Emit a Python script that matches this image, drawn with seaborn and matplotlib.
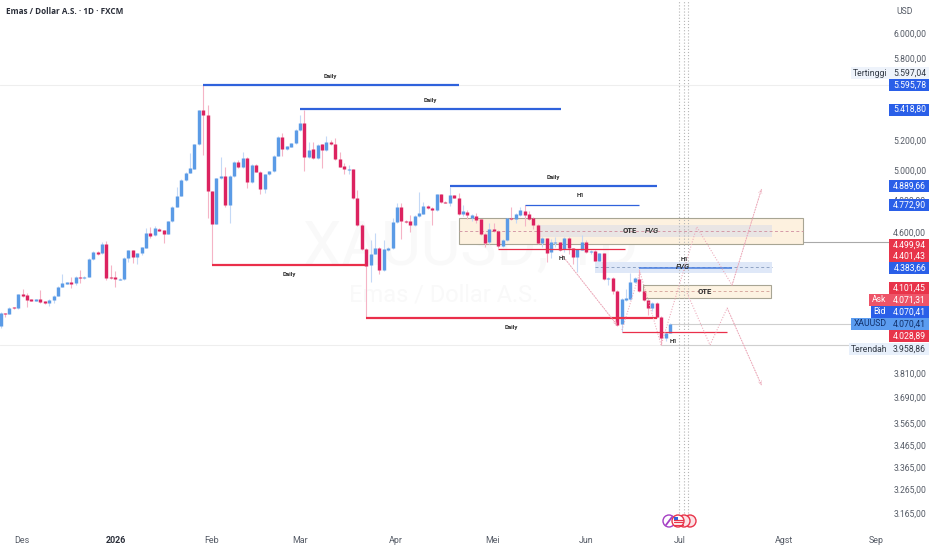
import pandas as pd
import matplotlib.pyplot as plt
import seaborn as sns
from matplotlib.patches import Rectangle, Circle
from matplotlib.lines import Line2D
from matplotlib.transforms import Affine2D

opens = [4060, 4132, 4125, 4163, 4156, 4237, 4229, 4206, 4199, 4206,
         4197, 4186, 4203, 4226, 4278, 4295, 4303, 4297, 4335, 4328,
         4335, 4439, 4480, 4472, 4529, 4335, 4335, 4318, 4322, 4445,
         4492, 4452, 4472, 4506, 4594, 4583, 4622, 4612, 4591, 4668,
         4760, 4828, 4932, 4980, 5007, 5174, 5413, 5376, 4859, 4653,
         4943, 4958, 4771, 4958, 5054, 5018, 5079, 4917, 5034, 4987,
         4874, 4970, 4991, 5094, 5225, 5138, 5156, 5179, 5270, 5320,
         5083, 5138, 5077, 5172, 5133, 5188, 5174, 5072, 5025, 5000,
         5003, 4815, 4645, 4498, 4402, 4470, 4504, 4374, 4490, 4504,
         4664, 4756, 4672, 4670, 4645, 4701, 4716, 4765, 4752, 4737,
         4839, 4789, 4785, 4833, 4817, 4714, 4728, 4687, 4703, 4680,
         4590, 4539, 4620, 4608, 4517, 4553, 4690, 4680, 4708, 4735,
         4712, 4687, 4645, 4535, 4563, 4478, 4535, 4539, 4498, 4567,
         4502, 4451, 4494, 4543, 4482, 4486, 4429, 4472, 4320, 4327,
         4255, 4069, 4205, 4210, 4305, 4325, 4253, 4205, 4156, 4188,
         4108, 3993, 4024]
closes = [4132, 4123, 4160, 4156, 4235, 4226, 4203, 4199, 4206, 4190,
          4188, 4205, 4226, 4278, 4297, 4303, 4295, 4335, 4328, 4335,
          4441, 4482, 4470, 4529, 4328, 4328, 4320, 4325, 4447, 4492,
          4451, 4474, 4508, 4594, 4580, 4626, 4610, 4591, 4668, 4760,
          4826, 4932, 4980, 5009, 5174, 5413, 5376, 4859, 4653, 4943,
          4960, 4769, 4958, 5054, 5018, 5079, 4917, 5034, 4987, 4874,
          4970, 4991, 5094, 5225, 5138, 5159, 5179, 5272, 5320, 5083,
          5133, 5077, 5168, 5133, 5188, 5172, 5072, 5020, 5003, 5005,
          4815, 4645, 4498, 4399, 4470, 4504, 4374, 4498, 4507, 4665,
          4756, 4668, 4665, 4645, 4703, 4718, 4765, 4750, 4737, 4839,
          4787, 4785, 4833, 4817, 4714, 4735, 4708, 4706, 4676, 4590,
          4537, 4620, 4606, 4517, 4553, 4687, 4680, 4712, 4737, 4710,
          4680, 4647, 4535, 4563, 4476, 4539, 4541, 4492, 4567, 4502,
          4450, 4496, 4539, 4480, 4488, 4429, 4472, 4320, 4329, 4255,
          4065, 4210, 4215, 4305, 4329, 4251, 4205, 4158, 4186, 4108,
          3993, 4024, 4070]
highs = [4135, 4133, 4165, 4165, 4238, 4263, 4240, 4208, 4210, 4259,
         4200, 4207, 4231, 4280, 4349, 4306, 4335, 4340, 4374, 4338,
         4444, 4485, 4485, 4541, 4545, 4403, 4370, 4330, 4450, 4495,
         4495, 4477, 4512, 4624, 4634, 4640, 4628, 4616, 4672, 4764,
         4885, 4936, 4984, 5110, 5178, 5418, 5597, 5451, 4862, 4947,
         5088, 5020, 4962, 5058, 5065, 5121, 5083, 5038, 5038, 4990,
         4974, 4995, 5098, 5229, 5249, 5163, 5183, 5276, 5379, 5418,
         5190, 5190, 5172, 5176, 5230, 5200, 5214, 5121, 5043, 5032,
         5007, 4867, 4650, 4502, 4553, 4594, 4508, 4553, 4511, 4687,
         4781, 4781, 4676, 4708, 4707, 4852, 4791, 4770, 4756, 4843,
         4843, 4793, 4885, 4837, 4846, 4770, 4740, 4712, 4720, 4684,
         4594, 4655, 4660, 4612, 4557, 4691, 4760, 4720, 4755, 4772,
         4735, 4692, 4650, 4570, 4567, 4560, 4570, 4543, 4571, 4571,
         4506, 4500, 4584, 4550, 4492, 4490, 4476, 4476, 4333, 4331,
         4259, 4214, 4265, 4355, 4333, 4383, 4257, 4209, 4190, 4192,
         4112, 4028, 4075]
lows = [4047, 4110, 4123, 4154, 4154, 4222, 4163, 4197, 4197, 4185,
        4180, 4171, 4185, 4224, 4274, 4292, 4270, 4290, 4297, 4325,
        4332, 4436, 4465, 4470, 4316, 4320, 4274, 4315, 4319, 4423,
        4417, 4409, 4465, 4503, 4563, 4580, 4605, 4537, 4588, 4665,
        4755, 4825, 4928, 4977, 5004, 5170, 5099, 4687, 4401, 4650,
        4940, 4756, 4656, 4955, 5015, 5015, 4878, 4913, 4983, 4839,
        4846, 4966, 4987, 5090, 5092, 5134, 5152, 5175, 5266, 4993,
        5080, 5073, 5073, 5013, 5129, 5168, 5068, 5016, 4970, 4972,
        4811, 4640, 4493, 4101, 4306, 4466, 4351, 4370, 4486, 4500,
        4660, 4557, 4660, 4604, 4640, 4697, 4712, 4745, 4645, 4733,
        4783, 4781, 4764, 4813, 4710, 4700, 4680, 4670, 4655, 4586,
        4513, 4530, 4600, 4505, 4513, 4549, 4676, 4660, 4704, 4639,
        4676, 4620, 4530, 4510, 4423, 4445, 4510, 4488, 4480, 4470,
        4410, 4364, 4490, 4476, 4470, 4425, 4425, 4316, 4290, 4235,
        4058, 4029, 4200, 4205, 4300, 4247, 4200, 4120, 4140, 4104,
        3958.86, 3980, 4020]

price_ticks = [6000, 5800, 5200, 5000, 4800, 4600, 3810, 3690, 3565, 3465, 3365, 3265, 3165]
price_labels = ['6.000,00', '5.800,00', '5.200,00', '5.000,00', '4.800,00', '4.600,00', '3.810,00',
                '3.690,00', '3.565,00', '3.465,00', '3.365,00', '3.265,00', '3.165,00']
month_bars = [4.8, 26.2, 47.8, 68, 89.8, 111.8, 133, 154.3, 177.9, 198.8]
month_labels = ['Des', '2026', 'Feb', 'Mar', 'Apr', 'Mei', 'Jun', 'Jul', 'Agst', 'Sep']

BLUE_BODY = '#5b9be6'
RED_BODY = '#dc2360'
LEVEL_BLUE = '#2f62dc'
LEVEL_RED = '#ea2f4a'
DOT_PINK = '#eba5b6'

# start bar, end bar, price, colour, width, label, label bar
levels = [
    (46, 104, 5595.78, LEVEL_BLUE, 1.6, 'Daily', 74.8, 'above'),
    (68, 127.3, 5418.8, LEVEL_BLUE, 1.6, 'Daily', 97.5, 'above'),
    (102, 149.1, 4889.66, LEVEL_BLUE, 1.6, 'Daily', 125.5, 'above'),
    (119, 145, 4772.9, LEVEL_BLUE, 0.9, 'H1', 131.8, 'above'),
    (48, 83, 4401.43, LEVEL_RED, 1.6, 'Daily', 65.5, 'below'),
    (83, 149.1, 4101.45, LEVEL_RED, 1.6, 'Daily', 116, 'below'),
    (113, 141.8, 4499.94, LEVEL_RED, 0.9, 'H1', 127.5, 'below'),
    (141, 165, 4028.89, LEVEL_RED, 0.9, 'H1', 152.9, 'below'),
    (145, 166, 4383.66, '#4a7fe0', 1.1, 'H1', 155.4, 'above'),
]
# bar0, bar1, price low, price high, fill, edge
zones = [
    (104.1, 182.2, 4529, 4689, '#fdf1df', '#a8a594'),
    (135, 175.1, 4358, 4423, '#dfe8f8', 'none'),
    (145.9, 175, 4216, 4287, '#fdf3e2', '#a8a594'),
    (122.3, 175.2, 4573, 4645, '#e9e5e4', 'none'),
]
mid_lines = [(104.1, 182.2, 4608, '#d59aa8'), (135, 175.1, 4390, '#8fa3c4'), (145.9, 175, 4252, '#d8a9a0')]
zone_texts = [(142.9, 4608, 'OTE', 'bold', 'normal'), (147.9, 4608, 'FVG', 'medium', 'italic'),
              (154.9, 4392, 'FVG', 'medium', 'italic'), (159.9, 4252, 'OTE', 'bold', 'normal')]
ray_lines = [(104, 202, 4538, '#a9a9a9'), (152, 202, 4070.41, '#cfcfcf'), (150, 201, 3958.86, '#cfcfcf')]
hair_lines = [5597.04, 3958.86]
session_bars = [154.1, 155.1, 156.0]
paths = [
    ([127.5, 140], [4462, 4065]),
    ([141.1, 145.2, 150, 158.1, 166.1, 172.8], [4038, 4362, 3958, 4633, 4287, 4873]),
    ([155.9, 161.1, 165, 172.8], [4242, 3958, 4158, 3752]),
]

# price tags on the scale: pixel row, value, background, text colour
tags = [
    (73, '5.597,04', '#eef3fb', '#333a45'),
    (85, '5.595,78', '#2a5fe8', 'white'),
    (109.5, '5.418,80', '#2a5fe8', 'white'),
    (186, '4.889,66', '#2a5fe8', 'white'),
    (205, '4.772,90', '#2a5fe8', 'white'),
    (244.7, '4.499,94', '#e8344a', 'white'),
    (256, '4.401,43', '#e8344a', 'white'),
    (268, '4.383,66', '#2a5fe8', 'white'),
    (288, '4.101,45', '#e8344a', 'white'),
    (300, '4.071,31', '#ee5468', 'white'),
    (312, '4.070,41', '#2a5fe8', 'white'),
    (324, '4.070,41', '#5b9cf0', '#12306a'),
    (336, '4.028,89', '#e8344a', 'white'),
    (349, '3.958,86', '#e8f0fb', '#333a45'),
]
side_tags = [
    (73, 'Tertinggi', 851, '#eef3fb', '#333a45'),
    (300, 'Ask', 869, '#ee5468', 'white'),
    (312, 'Bid', 871, '#2a5fe8', 'white'),
    (324, 'XAUUSD', 851, '#5b9cf0', '#12306a'),
    (349, 'Terendah', 849, '#e8f0fb', '#333a45'),
]


def build_tables():
    n = len(opens)
    direction = ['up' if c >= o else 'down' for o, c in zip(opens, closes)]
    wick = pd.DataFrame({'bar': list(range(n)) * 2, 'price': highs + lows, 'dir': direction * 2})
    body = pd.DataFrame({'bar': list(range(n)) * 2, 'price': opens + closes, 'dir': direction * 2})
    wick['unit'] = wick['bar']
    body['unit'] = body['bar']
    return wick, body


def draw_overlays(ax):
    for x0, x1, lo, hi, fill, edge in zones:
        ax.add_patch(Rectangle((x0, lo), x1 - x0, hi - lo, facecolor=fill, edgecolor=edge,
                               linewidth=0.8, zorder=1.2))
    for x0, x1, price, color in mid_lines:
        ax.plot([x0, x1], [price, price], color=color, lw=0.7, ls=(0, (3, 2.5)), zorder=1.4)
    for price in hair_lines:
        ax.axhline(price, color='#eeeeee', lw=0.8, zorder=0.5)
    for x0, x1, price, color in ray_lines:
        ax.plot([x0, x1], [price, price], color=color, lw=0.8, zorder=1.1)
    for bar in session_bars:
        ax.plot([bar, bar], [3165, 6270], color='#b5b5b5', lw=0.8, ls=(0, (1, 1.8)), zorder=1.5)

    for x0, x1, price, color, lw, label, label_bar, side in levels:
        ax.plot([x0, x1], [price, price], color=color, lw=lw, zorder=3, solid_capstyle='butt')
        va = 'bottom' if side == 'above' else 'top'
        shift = 1.009 if side == 'above' else 0.991
        ax.text(label_bar, price * shift, label, fontsize=4.3, fontweight='bold', color='#2b2b2b',
                ha='center', va=va, zorder=4)

    for bars, prices in paths:
        ax.plot(bars, prices, color=DOT_PINK, lw=0.75, ls=(0, (1, 1.6)), zorder=3.2)
        ax.annotate('', xy=(bars[-1], prices[-1]), xytext=(bars[-2], prices[-2]),
                    arrowprops=dict(arrowstyle='->', color=DOT_PINK, lw=0.5, shrinkA=0, shrinkB=0,
                                    mutation_scale=6, linestyle=':'), zorder=3.2)

    for bar, price, label, weight, style in zone_texts:
        ax.text(bar, price, label, fontsize=5.6, fontweight=weight, fontstyle=style, color='#2b2b2b',
                ha='center', va='center', zorder=4)

    # watermark
    ax.text(106.7, 4505, 'XAUUSD, 1D', fontsize=44, color='#f9f9f9', ha='center', va='center', zorder=0.2)
    ax.text(100.5, 4230, 'Emas / Dollar A.S.', fontsize=17, color='#f9f9f9', ha='center', va='center', zorder=0.2)


def draw_scale_tags(fig):
    to_px = Affine2D().scale(1, -1).translate(0, 550)
    for y, value, bg, fg in tags:
        fig.add_artist(Rectangle((888.7, y - 6), 40.3, 12, facecolor=bg, edgecolor='none', transform=to_px))
        fig.add_artist(plt.Text(926, y, value, color=fg, fontsize=6.2, ha='right', va='center', transform=to_px))
    for y, label, left, bg, fg in side_tags:
        fig.add_artist(Rectangle((left, y - 6), 888.7 - left, 12, facecolor=bg, edgecolor='none', transform=to_px))
        fig.add_artist(plt.Text((left + 888.7) / 2, y, label, color=fg, fontsize=6.2, ha='center', va='center',
                                transform=to_px))
    fig.add_artist(plt.Text(905, 12, 'USD', color='#555b66', fontsize=6.2, ha='center', va='center', transform=to_px))
    fig.add_artist(plt.Text(6, 12, 'Emas / Dollar A.S. · 1D · FXCM', color='#2a2e39', fontsize=5.85,
                            fontweight='bold', family='Open Sans', ha='left', va='center', transform=to_px))

    # event badges under the session lines
    fig.add_artist(Circle((669, 521), 6, facecolor='white', edgecolor='#a53fc4', lw=1.0, transform=to_px))
    fig.add_artist(Line2D([666, 672], [525, 517], color='#a53fc4', lw=1.3, transform=to_px))
    for cx in [690, 684]:
        fig.add_artist(Circle((cx, 521), 6, facecolor='#fbe3e6', edgecolor='#e8344a', lw=1.0, transform=to_px))
    fig.add_artist(Circle((678, 521), 6, facecolor='white', edgecolor='#e8344a', lw=1.0, transform=to_px))
    for yy in [519.5, 522, 524.5]:
        fig.add_artist(Line2D([673.5, 682.5], [yy, yy], color='#e8344a', lw=0.9, transform=to_px))
    fig.add_artist(Rectangle((673.5, 516.5), 4.5, 4, facecolor='#2f62dc', edgecolor='none', transform=to_px))


def main():
    sns.set_theme(style='white')
    plt.rcParams['font.family'] = ['Roboto', 'DejaVu Sans']

    wick, body = build_tables()
    palette = {'up': BLUE_BODY, 'down': RED_BODY}
    wick_palette = {'up': '#c4d9f6', 'down': '#f5b4c6'}

    fig = plt.figure(figsize=(9.32, 5.5), dpi=100)
    ax = fig.add_axes([0, 20 / 550, 890 / 932, 530 / 550])
    ax.set_yscale('log')

    sns.lineplot(data=wick, x='bar', y='price', hue='dir', units='unit', estimator=None, sort=False,
                 palette=wick_palette, linewidth=0.8, legend=False, ax=ax, zorder=2, solid_capstyle='butt')
    sns.lineplot(data=body, x='bar', y='price', hue='dir', units='unit', estimator=None, sort=False,
                 palette=palette, linewidth=2.45, legend=False, ax=ax, zorder=2.1, solid_capstyle='butt')

    ax.set_xlim(-0.152, 201.98)
    ax.set_ylim(3093, 6270)
    draw_overlays(ax)

    ax.set_xlabel('')
    ax.set_ylabel('')
    ax.yaxis.tick_right()
    ax.minorticks_off()
    ax.set_yticks(price_ticks, price_labels)
    ax.set_xticks(month_bars, month_labels)
    ax.tick_params(axis='y', which='both', length=0, pad=26, labelsize=6.2, labelcolor='#555b66')
    ax.tick_params(axis='x', which='both', length=0, pad=4, labelsize=6.4, labelcolor='#555b66')
    for tick in ax.get_yticklabels():
        tick.set_ha('right')
    ax.get_xticklabels()[1].set_fontweight('bold')
    ax.get_xticklabels()[1].set_color('#2a2e39')
    sns.despine(ax=ax, left=True, bottom=True, right=True, top=True)

    draw_scale_tags(fig)
    fig.savefig('out.png', dpi=100)


if __name__ == "__main__":
    main()
